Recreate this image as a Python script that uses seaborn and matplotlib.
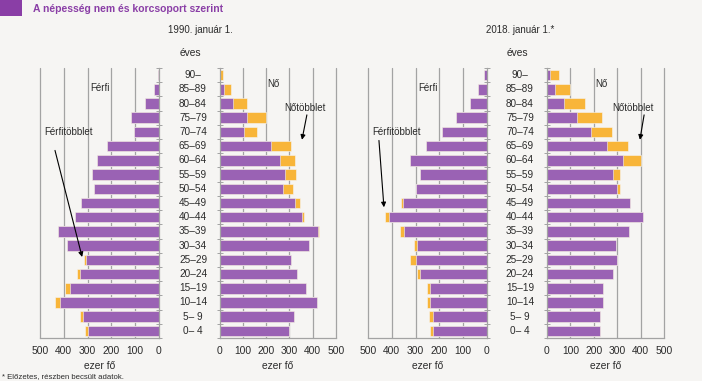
import numpy as np
import pandas as pd
import matplotlib
matplotlib.use("Agg")
import matplotlib.pyplot as plt
import matplotlib.transforms as mtransforms
from matplotlib import font_manager
from matplotlib.patches import Rectangle
import seaborn as sns

# ---------------- data (thousand persons) ----------------
ages = ["90–", "85–89", "80–84", "75–79", "70–74", "65–69", "60–64", "55–59",
        "50–54", "45–49", "40–44", "35–39", "30–34", "25–29", "20–24", "15–19",
        "10–14", "5– 9", "0– 4"]

male_1990 = [3, 20, 60, 117, 107, 220, 259, 281, 274, 326, 354, 423, 386, 316,
             345, 395, 437, 332, 312]
female_1990 = [17, 51, 116, 200, 163, 307, 323, 329, 317, 346, 361, 427, 386, 306,
               333, 372, 418, 319, 300]

male_2018 = [12, 36, 72, 130, 187, 256, 325, 283, 299, 362, 430, 366, 308, 325,
             293, 252, 254, 242, 240]
female_2018 = [50, 100, 161, 233, 276, 346, 400, 314, 310, 353, 412, 350, 294, 298,
               280, 238, 240, 227, 226]

x_ticks = [0, 100, 200, 300, 400, 500]
panel_titles = ["1990. január 1.", "2018. január 1.*"]
title = "A népesség nem és korcsoport szerint"
footnote = "* Előzetes, részben becsült adatok."

# ---------------- style ----------------
sns.set_theme(style="white")
names = {f.name for f in font_manager.fontManager.ttflist}
base_font = "Liberation Sans" if "Liberation Sans" in names else "DejaVu Sans"
narrow_font = "Liberation Sans Narrow" if "Liberation Sans Narrow" in names else base_font
plt.rcParams["font.family"] = [base_font, "DejaVu Sans"]

PURPLE = "#9a62b4"
ORANGE = "#f8b539"
TITLE_PURPLE = "#8a3ea6"
BG = "#f6f5f3"
GRID = "#a3a3a3"
TXT = "#2b2b2b"

W, H = 702, 381
fig = plt.figure(figsize=(W / 100, H / 100), dpi=100, facecolor=BG)

def fx(px):
    return px / W

def fy(py):
    return 1 - py / H

ax_top, ax_bot = 68, 338
axes_px = {
    ("1990", "m"): (40, 159),
    ("1990", "f"): (219.5, 336),
    ("2018", "m"): (368, 487),
    ("2018", "f"): (547, 664),
}

def make_ax(x0, x1):
    return fig.add_axes([fx(x0), fy(ax_bot), (x1 - x0) / W, (ax_bot - ax_top) / H])

def draw_side(ax, total, common, male_side):
    df = pd.DataFrame({"age": ages, "total": total, "common": common})
    ax.set_facecolor(BG)
    sns.barplot(data=df, x="total", y="age", orient="h", color=ORANGE, saturation=1,
                width=0.74, errorbar=None, ax=ax, edgecolor=BG, linewidth=0.4)
    sns.barplot(data=df, x="common", y="age", orient="h", color=PURPLE, saturation=1,
                width=0.74, errorbar=None, ax=ax, edgecolor=BG, linewidth=0.4)
    ax.set_xlabel("")
    ax.set_ylabel("")
    ax.set_ylim(18.5, -0.5)
    if male_side:
        ax.set_xlim(500, 0)
    else:
        ax.set_xlim(0, 500)
    ax.set_xticks(x_ticks)
    ax.set_xticklabels([str(v) for v in x_ticks], fontsize=7.4, color=TXT)
    ax.set_yticks(np.arange(-0.5, 19, 1))
    ax.set_yticklabels([])
    for s in ax.spines.values():
        s.set_visible(False)
    ax.spines["bottom"].set_visible(True)
    ax.spines["bottom"].set_color(GRID)
    ax.spines["bottom"].set_linewidth(0.9)
    side = "right" if male_side else "left"
    ax.spines[side].set_visible(True)
    ax.spines[side].set_color(GRID)
    ax.spines[side].set_linewidth(0.9)
    if male_side:
        ax.yaxis.tick_right()
    else:
        ax.yaxis.tick_left()
    ax.tick_params(axis="y", direction="inout", length=4, width=0.7, color=GRID, pad=1)
    ax.tick_params(axis="x", direction="inout", length=4, width=0.7, color=GRID, pad=4)
    ax.set_axisbelow(True)
    for v in x_ticks[1:]:
        ax.axvline(v, color=GRID, lw=0.9, zorder=0, clip_on=False)

panels = [("1990", male_1990, female_1990), ("2018", male_2018, female_2018)]
for (yr, m, f), ptitle in zip(panels, panel_titles):
    m = np.array(m)
    f = np.array(f)
    common = np.minimum(m, f)
    axm = make_ax(*axes_px[(yr, "m")])
    axf = make_ax(*axes_px[(yr, "f")])
    draw_side(axm, m, common, True)
    draw_side(axf, f, common, False)

    # side labels
    axm.text(250, 0.9, "Férfi", ha="center", va="center", fontsize=7, color=TXT)
    axf.text(232, 0.65, "Nő", ha="center", va="center", fontsize=7, color=TXT)
    axm.text(382, 4.0, "Férfitöbblet", ha="center", va="center", fontsize=7, color=TXT)
    axf.text(367, 2.3, "Nőtöbblet", ha="center", va="center", fontsize=7, color=TXT)

    arrow = dict(arrowstyle="-|>", color="black", lw=0.8, mutation_scale=7,
                 shrinkA=0, shrinkB=0)
    if yr == "1990":
        axm.annotate("", xy=(323, 12.8), xytext=(437, 5.3), arrowprops=arrow,
                     annotation_clip=False)
        axf.annotate("", xy=(354, 4.55), xytext=(375, 2.8), arrowprops=arrow,
                     annotation_clip=False)
    else:
        axm.annotate("", xy=(433, 9.3), xytext=(454, 4.6), arrowprops=arrow,
                     annotation_clip=False)
        axf.annotate("", xy=(397, 4.55), xytext=(415, 2.8), arrowprops=arrow,
                     annotation_clip=False)

    # age labels between the two halves
    lab_x = 193 if yr == "1990" else 520
    tr = mtransforms.blended_transform_factory(fig.transFigure, axm.transData)
    for k, a in enumerate(ages):
        fig.text(fx(lab_x), k, a, transform=tr, ha="center", va="center",
                 fontsize=7.2, color=TXT)

    # headers
    tx = 200 if yr == "1990" else 520
    fig.text(fx(tx), fy(30), ptitle, ha="center", va="center", fontsize=7, color=TXT)
    ex = 190 if yr == "1990" else 517
    fig.text(fx(ex), fy(53), "éves", ha="center", va="center", fontsize=7.4, color=TXT)

    # unit labels
    for key in [(yr, "m"), (yr, "f")]:
        x0, x1 = axes_px[key]
        fig.text(fx((x0 + x1) / 2), fy(366), "ezer fő", ha="center", va="center",
                 fontsize=7.4, color=TXT)

# title block
fig.patches.append(Rectangle((0, fy(16)), fx(22), 16 / H, transform=fig.transFigure,
                             facecolor=TITLE_PURPLE, edgecolor="none"))
t = fig.text(fx(33), fy(8.5), title, ha="left", va="center", fontsize=8.5,
             fontweight="bold", color=TITLE_PURPLE, family=[narrow_font, "DejaVu Sans"])
fig.canvas.draw()
bb = t.get_window_extent()
t.set_fontsize(8.5 * 189 / bb.width)

fig.text(fx(2), fy(377), footnote, ha="left", va="center", fontsize=5.6, color=TXT)

fig.savefig("out.png", dpi=100, facecolor=BG)
